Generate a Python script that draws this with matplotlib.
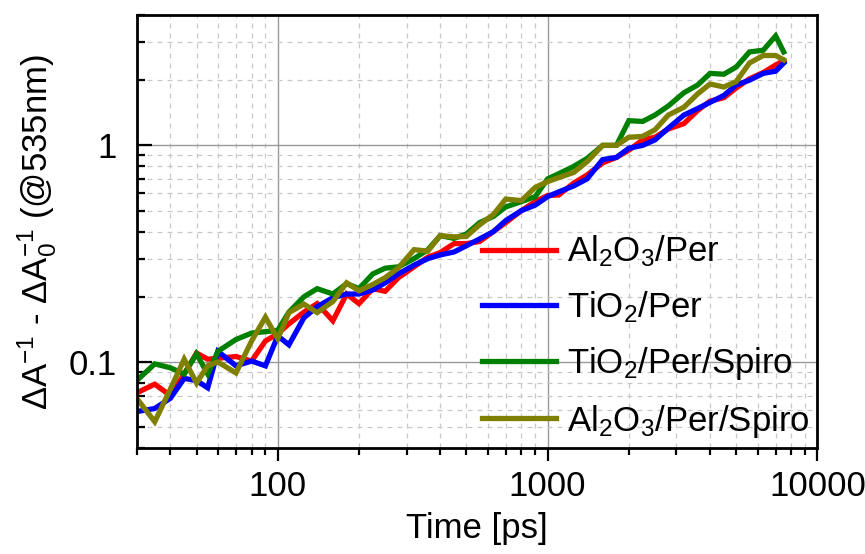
import matplotlib
matplotlib.use("Agg")
import matplotlib.pyplot as plt
from matplotlib.ticker import LogLocator, NullFormatter, FixedLocator, FixedFormatter

plt.rcParams["font.family"] = ["Liberation Sans", "DejaVu Sans"]
plt.rcParams["mathtext.default"] = "regular"

# time delays [ps]
time_ps = [30, 35, 40, 45, 50, 55, 60, 70, 80, 90, 100, 110, 125, 140, 160, 180, 200,
           225, 250, 280, 320, 360, 400, 450, 500, 560, 630, 700, 800, 900, 1000, 1100,
           1250, 1400, 1600, 1800, 2000, 2250, 2500, 2800, 3200, 3600, 4000, 4500, 5000,
           5600, 6300, 7000, 7500]

al2o3_per = [0.072, 0.079, 0.070, 0.088, 0.110, 0.103, 0.104, 0.106, 0.101, 0.125, 0.135,
             0.150, 0.170, 0.186, 0.155, 0.206, 0.186, 0.218, 0.212, 0.245, 0.275, 0.305,
             0.320, 0.352, 0.352, 0.360, 0.400, 0.440, 0.500, 0.550, 0.587, 0.590, 0.670,
             0.730, 0.830, 0.880, 0.950, 1.060, 1.090, 1.190, 1.260, 1.450, 1.600, 1.660,
             1.840, 2.030, 2.170, 2.350, 2.460]

tio2_per = [0.059, 0.061, 0.068, 0.084, 0.082, 0.076, 0.112, 0.096, 0.101, 0.096, 0.132,
            0.120, 0.160, 0.180, 0.198, 0.206, 0.206, 0.215, 0.232, 0.255, 0.280, 0.300,
            0.312, 0.322, 0.344, 0.370, 0.400, 0.450, 0.500, 0.530, 0.580, 0.610, 0.650,
            0.700, 0.860, 0.880, 0.970, 1.000, 1.060, 1.200, 1.380, 1.480, 1.580, 1.700,
            1.900, 2.000, 2.150, 2.200, 2.400]

tio2_per_spiro = [0.082, 0.098, 0.094, 0.088, 0.109, 0.088, 0.112, 0.127, 0.136, 0.138,
                  0.140, 0.170, 0.200, 0.218, 0.206, 0.230, 0.218, 0.255, 0.271, 0.275,
                  0.300, 0.330, 0.383, 0.372, 0.390, 0.440, 0.470, 0.520, 0.550, 0.580,
                  0.700, 0.740, 0.800, 0.870, 1.000, 1.000, 1.300, 1.290, 1.380, 1.520,
                  1.750, 1.900, 2.150, 2.130, 2.300, 2.700, 2.750, 3.200, 2.700]

al2o3_per_spiro = [0.068, 0.053, 0.075, 0.103, 0.080, 0.096, 0.100, 0.089, 0.125, 0.161,
                   0.128, 0.169, 0.185, 0.169, 0.190, 0.232, 0.213, 0.228, 0.245, 0.272,
                   0.330, 0.325, 0.383, 0.378, 0.380, 0.430, 0.480, 0.565, 0.556, 0.640,
                   0.680, 0.710, 0.750, 0.840, 1.000, 1.000, 1.090, 1.100, 1.180, 1.380,
                   1.500, 1.730, 1.920, 1.860, 1.970, 2.400, 2.600, 2.600, 2.480]

labels = ["Al$_2$O$_3$/Per", "TiO$_2$/Per", "TiO$_2$/Per/Spiro", "Al$_2$O$_3$/Per/Spiro"]
colors = ["#ff0000", "#0000ff", "#008000", "#808000"]
series = [al2o3_per, tio2_per, tio2_per_spiro, al2o3_per_spiro]

fig = plt.figure(figsize=(8.65, 5.54), dpi=100)
ax = fig.add_axes([0.158, 0.191, 0.787, 0.782])

for ys, c, lab in zip(series, colors, labels):
    ax.plot(time_ps, ys, color=c, lw=3.8, label=lab, solid_joinstyle="miter")

ax.set_xscale("log")
ax.set_yscale("log")
ax.set_xlim(30, 10000)
ax.set_ylim(0.04, 4)

ax.xaxis.set_major_locator(FixedLocator([100, 1000, 10000]))
ax.xaxis.set_major_formatter(FixedFormatter(["100", "1000", "10000"]))
ax.xaxis.set_minor_locator(LogLocator(base=10, subs=range(2, 10)))
ax.xaxis.set_minor_formatter(NullFormatter())
ax.yaxis.set_major_locator(FixedLocator([0.1, 1]))
ax.yaxis.set_major_formatter(FixedFormatter(["0.1", "1"]))
ax.yaxis.set_minor_locator(LogLocator(base=10, subs=range(2, 10)))
ax.yaxis.set_minor_formatter(NullFormatter())

ax.grid(which="major", color="#999999", lw=1.0, ls="-")
ax.grid(which="minor", color="#c8c8c8", lw=0.9, ls=(0, (4, 4)))
ax.set_axisbelow(True)

ax.tick_params(axis="x", which="major", direction="out", length=9, width=1.6,
               labelsize=25, pad=7)
ax.tick_params(axis="x", which="minor", direction="out", length=5, width=1.6)
ax.tick_params(axis="y", which="major", direction="in", length=11, width=1.6,
               labelsize=25, pad=14)
ax.tick_params(axis="y", which="minor", direction="in", length=6, width=1.6)

for s in ax.spines.values():
    s.set_linewidth(2.0)

ax.set_xlabel("Time [ps]", fontsize=25, labelpad=6)
ax.set_ylabel("ΔA$^{-1}$ - ΔA$_0^{-1}$ (@535nm)", fontsize=25, labelpad=7)

ax.legend(loc="lower left", bbox_to_anchor=(0.507, 0.02), frameon=False, fontsize=25,
          handlelength=2.15, handletextpad=0.3, labelspacing=0.58, borderpad=0,
          borderaxespad=0)

fig.savefig("out.png", dpi=100)
